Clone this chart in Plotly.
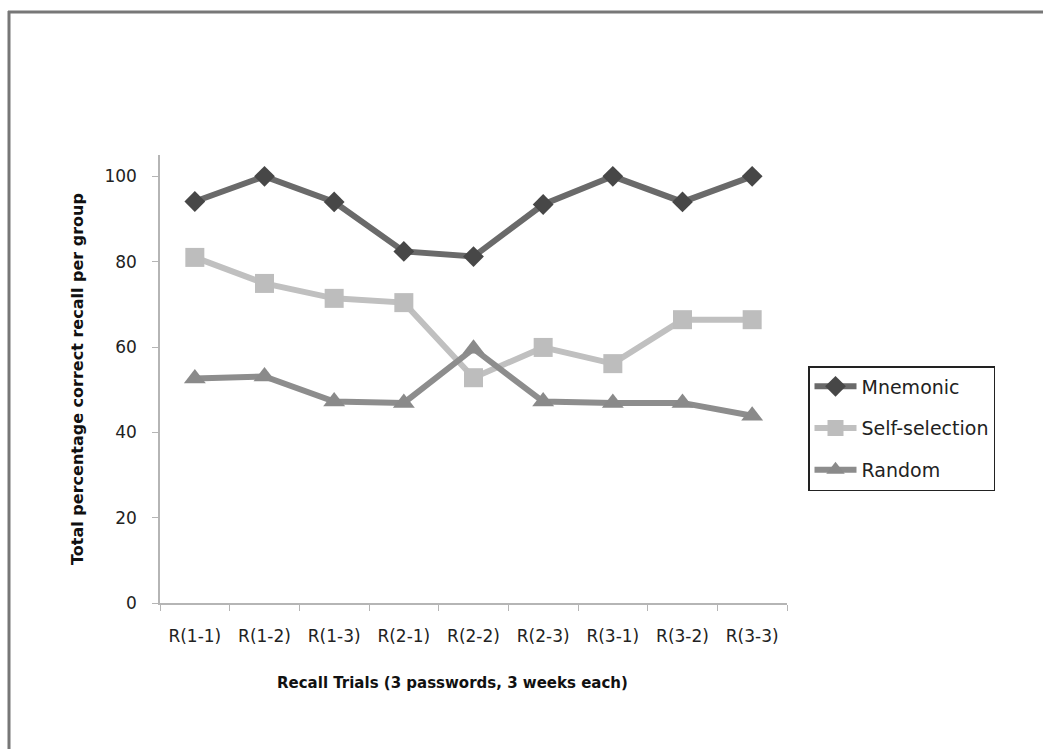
import plotly.graph_objects as go

categories = ["R(1-1)", "R(1-2)", "R(1-3)", "R(2-1)", "R(2-2)", "R(2-3)", "R(3-1)", "R(3-2)", "R(3-3)"]
mnemonic = [94.1, 100, 94.0, 82.4, 81.2, 93.4, 100, 94.0, 100]
self_selection = [81.0, 74.9, 71.4, 70.4, 52.8, 59.9, 56.1, 66.4, 66.4]
random_grp = [52.6, 53.1, 47.2, 46.9, 59.6, 47.2, 46.9, 46.9, 43.9]
y_ticks = [0, 20, 40, 60, 80, 100]

FONT = "DejaVu Sans"

fig = go.Figure()
fig.add_trace(go.Scatter(x=categories, y=mnemonic, name="Mnemonic", mode="lines+markers",
                         line=dict(color="#6a6a6a", width=6),
                         marker=dict(symbol="diamond", size=16, color="#474747"),
                         legendgroup="a"))
fig.add_trace(go.Scatter(x=categories, y=self_selection, name="Self-selection", mode="lines+markers",
                         line=dict(color="#c0c0c0", width=6),
                         marker=dict(symbol="square", size=19, color="#bdbdbd"),
                         legendgroup="b"))
fig.add_trace(go.Scatter(x=categories, y=random_grp, name="Random", mode="lines+markers",
                         line=dict(color="#8d8d8d", width=6),
                         marker=dict(symbol="triangle-up", size=19, color="#8a8a8a"),
                         legendgroup="c"))

W, H = 1043, 749
L, R, T, B = 160, 256, 155, 146
pw, ph = W - L - R, H - T - B

def px_x(x):
    return (x - L) / pw

def px_y(y):
    return (H - B - y) / ph

fig.update_layout(
    width=W, height=H,
    margin=dict(l=L, r=R, t=T, b=B),
    paper_bgcolor="white", plot_bgcolor="white",
    font=dict(family=FONT, size=17, color="#222222"),
    showlegend=True,
    legend=dict(x=px_x(808), y=px_y(366), xanchor="left", yanchor="top",
                bordercolor="#222222", borderwidth=1.5, bgcolor="white",
                font=dict(family=FONT, size=19, color="#222222"),
                itemwidth=42,
                tracegroupgap=14, traceorder="grouped"),
    xaxis=dict(type="category", range=[-0.5, 8.5], showgrid=False,
               showline=True, linecolor="#b5b5b5", linewidth=1.5,
               ticks="outside", tickson="boundaries", ticklen=6, tickcolor="#b5b5b5",
               ticklabelstandoff=17,
               tickfont=dict(family=FONT, size=17, color="#222222")),
    yaxis=dict(range=[0, 105], tickvals=y_ticks, showgrid=False, zeroline=False,
               showline=True, linecolor="#b5b5b5", linewidth=1.5,
               ticks="outside", ticklen=6, tickcolor="#b5b5b5",
               ticklabelstandoff=12,
               tickfont=dict(family=FONT, size=17, color="#222222"),
               title=dict(text="<b>Total percentage correct recall per group</b>",
                          font=dict(family=FONT, size=16, color="#111111"), standoff=17)),
    annotations=[
        dict(text="<b>Recall Trials (3 passwords, 3 weeks each)</b>", xref="paper", yref="paper",
             x=px_x(452), y=px_y(683), xanchor="center", yanchor="middle", showarrow=False,
             font=dict(family=FONT, size=15, color="#111111")),
    ],
    shapes=[
        dict(type="line", xref="paper", yref="paper", x0=px_x(9), x1=px_x(9), y0=px_y(11), y1=px_y(760),
             line=dict(color="#777777", width=3)),
        dict(type="line", xref="paper", yref="paper", x0=px_x(8), x1=px_x(1050), y0=px_y(12), y1=px_y(12),
             line=dict(color="#777777", width=3)),
    ],
)

fig.write_html("out.html")
